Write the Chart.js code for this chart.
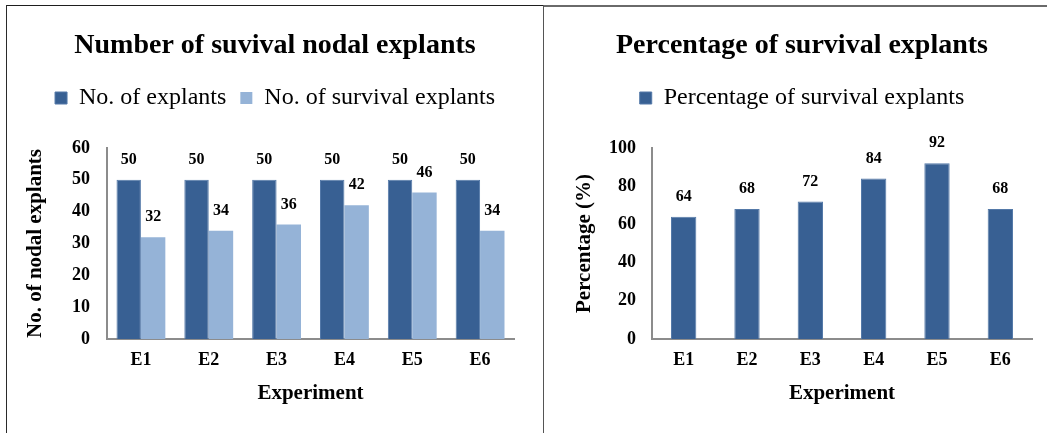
<!DOCTYPE html>
<html>
<head>
<meta charset="utf-8">
<title>Survival of nodal explants</title>
<script src="https://cdn.jsdelivr.net/npm/chart.js@4.4.1/dist/chart.umd.min.js"></script>
<style>
  html, body { margin: 0; padding: 0; background: #fff; }
  body { width: 1047px; height: 433px; position: relative; overflow: hidden; }
  canvas { position: absolute; }
  #countChart { left: 7px; top: 6px; }
  #percentChart { left: 545px; top: 6px; }
  .rule { position: absolute; z-index: 2; }
</style>
</head>
<body>
<canvas id="countChart" width="536" height="427"></canvas>
<canvas id="percentChart" width="514" height="427"></canvas>
<div class="rule" style="left:6px;top:5px;width:538px;height:1px;background:#1e1e1e"></div>
<div class="rule" style="left:544px;top:5px;width:503px;height:2px;background:#6a6a6a"></div>
<div class="rule" style="left:6px;top:5px;width:1px;height:428px;background:#2a2a2a"></div>
<div class="rule" style="left:543px;top:5px;width:1px;height:428px;background:#555"></div>
<script>
// Experiments and their results
const categories = ['E1', 'E2', 'E3', 'E4', 'E5', 'E6'];
const explants = [50, 50, 50, 50, 50, 50];
const survivalExplants = [32, 34, 36, 42, 46, 34];
const survivalPercent = [64, 68, 72, 84, 92, 68];

// Value axis settings
const countAxis = { min: 0, max: 60, step: 10 };
const percentAxis = { min: 0, max: 100, step: 20 };

const SERIF = "'Liberation Serif', 'Times New Roman', serif";
const DARK_BLUE = '#386093';
const DARK_EDGE = '#5479a8';
const LIGHT_BLUE = '#95b3d7';
const AXIS_GREY = '#8c8c8c';

Chart.defaults.color = '#000';
Chart.defaults.font.family = SERIF;

// Writes each bar's value above it
const valueLabels = {
  id: 'valueLabels',
  afterDatasetsDraw(chart) {
    const ctx = chart.ctx;
    ctx.save();
    ctx.font = 'bold 16px ' + SERIF;
    ctx.fillStyle = '#000';
    ctx.textAlign = 'center';
    ctx.textBaseline = 'middle';
    chart.data.datasets.forEach((ds, di) => {
      chart.getDatasetMeta(di).data.forEach((bar, i) => {
        ctx.fillText(String(ds.data[i]), bar.x, bar.y - 20);
      });
    });
    ctx.restore();
  }
};

function buildOptions(cfg) {
  return {
    responsive: false,
    animation: false,
    layout: { padding: { top: 0, bottom: 27, left: cfg.pad, right: cfg.pad } },
    plugins: {
      title: {
        display: true,
        text: cfg.title,
        font: { size: 28, weight: 'bold', family: SERIF, lineHeight: 1.2 },
        padding: { top: 22.7, bottom: 9.7 }
      },
      legend: {
        display: true,
        position: 'top',
        labels: {
          boxWidth: 12,
          boxHeight: 12,
          padding: 14,
          font: { size: 24, family: SERIF }
        }
      },
      tooltip: { enabled: false }
    },
    scales: {
      x: {
        type: 'category',
        position: 'bottom',
        grid: { display: false, drawTicks: false },
        border: { display: true, color: AXIS_GREY, width: 2 },
        ticks: { font: { size: 18, weight: 'bold', family: SERIF }, padding: 11 },
        title: {
          display: true,
          text: 'Experiment',
          font: { size: 21, weight: 'bold', family: SERIF, lineHeight: 1.2 },
          padding: { top: -1.8, bottom: 0 }
        }
      },
      xTop: {
        type: 'category',
        position: 'top',
        display: true,
        grid: { display: false, drawTicks: false },
        border: { display: false },
        ticks: { display: false },
        afterFit(scale) { scale.height = 28; }
      },
      y: {
        min: cfg.axis.min,
        max: cfg.axis.max,
        grid: { display: false, drawTicks: false },
        border: { display: true, color: AXIS_GREY, width: 2 },
        ticks: {
          stepSize: cfg.axis.step,
          autoSkip: false,
          font: { size: 18, weight: 'bold', family: SERIF },
          padding: cfg.tickPad
        },
        title: {
          display: true,
          text: cfg.yTitle,
          font: { size: 21, weight: 'bold', family: SERIF, lineHeight: 1.2 },
          padding: cfg.yTitlePad
        }
      }
    }
  };
}

new Chart(document.getElementById('countChart'), {
  type: 'bar',
  data: {
    labels: categories,
    datasets: [
      {
        label: 'No. of explants',
        data: explants,
        backgroundColor: DARK_BLUE,
        borderColor: DARK_EDGE,
        borderWidth: 1,
        categoryPercentage: 0.72,
        barPercentage: 1.0
      },
      {
        label: 'No. of survival explants',
        data: survivalExplants,
        backgroundColor: LIGHT_BLUE,
        borderWidth: 0,
        categoryPercentage: 0.72,
        barPercentage: 1.0
      }
    ]
  },
  options: buildOptions({
    title: 'Number of suvival nodal explants',
    yTitle: 'No. of nodal explants',
    axis: countAxis,
    pad: 29,
    tickPad: 17,
    yTitlePad: { top: -12.6, bottom: 6.4 }
  }),
  plugins: [valueLabels]
});

new Chart(document.getElementById('percentChart'), {
  type: 'bar',
  data: {
    labels: categories,
    datasets: [
      {
        label: 'Percentage of survival explants',
        data: survivalPercent,
        backgroundColor: DARK_BLUE,
        borderColor: DARK_EDGE,
        borderWidth: 1,
        categoryPercentage: 0.4,
        barPercentage: 1.0
      }
    ]
  },
  options: buildOptions({
    title: 'Percentage of survival explants',
    yTitle: 'Percentage (%)',
    axis: percentAxis,
    pad: 27,
    tickPad: 16,
    yTitlePad: { top: 0, bottom: -4.2 }
  }),
  plugins: [valueLabels]
});
</script>
</body>
</html>
